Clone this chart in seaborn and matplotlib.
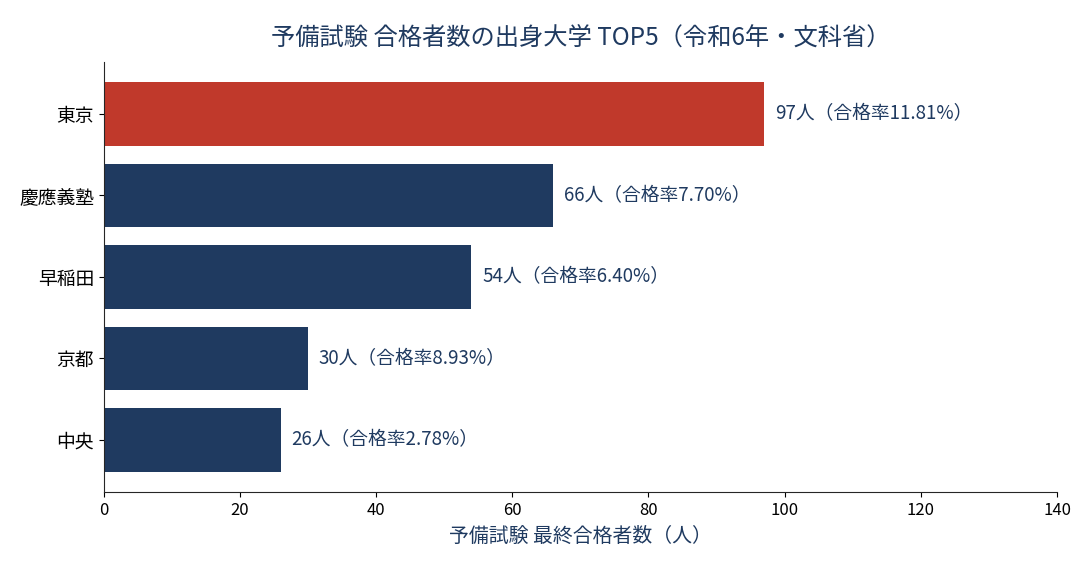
import pandas as pd
import matplotlib.pyplot as plt
import seaborn as sns

universities = ["東京", "慶應義塾", "早稲田", "京都", "中央"]
passers = [97, 66, 54, 30, 26]
pass_rates = [11.81, 7.70, 6.40, 8.93, 2.78]

navy = "#1f3a60"
red = "#c0392b"

df = pd.DataFrame({"university": universities, "passers": passers, "rate": pass_rates})

sns.set_style("ticks")
plt.rcParams["font.family"] = ["Noto Sans CJK JP", "DejaVu Sans"]

fig, ax = plt.subplots(figsize=(10.92, 5.72), dpi=100)
fig.subplots_adjust(left=0.095, right=0.968, top=0.892, bottom=0.14)

palette = {u: (red if i == 0 else navy) for i, u in enumerate(universities)}
sns.barplot(data=df, x="passers", y="university", hue="university", palette=palette,
            orient="h", width=0.78, saturation=1, legend=False, linewidth=0, ax=ax)

for i, row in df.iterrows():
    ax.text(row["passers"] + 1.6, i, f"{row['passers']}人（合格率{row['rate']:.2f}%）",
            va="center", ha="left", fontsize=13.5, color=navy)

ax.set_xlim(0, 140)
ax.set_ylim(4.64, -0.64)
ax.set_xticks(range(0, 141, 20))
ax.tick_params(axis="x", labelsize=12, colors="black")
ax.tick_params(axis="y", labelsize=13.5, colors="black")
ax.set_ylabel("")
ax.set_xlabel("予備試験 最終合格者数（人）", fontsize=14.3, color=navy, labelpad=5)
ax.set_title("予備試験 合格者数の出身大学 TOP5（令和6年・文科省）", fontsize=17.5, color=navy, pad=12)
sns.despine(ax=ax)

plt.savefig("out.png", dpi=100)
